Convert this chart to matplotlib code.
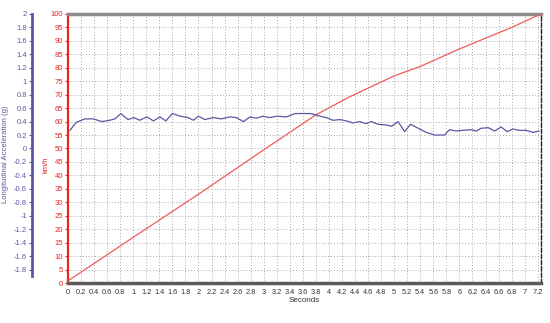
import numpy as np
import matplotlib
matplotlib.use("Agg")
import matplotlib.pyplot as plt

plt.rcParams["font.family"] = ["Liberation Sans", "DejaVu Sans"]

# speed trace (km/h) against time (s)
speed_t = [0, 0.6, 1, 2, 3, 3.8, 4.3, 5, 5.4, 6, 6.3, 6.8, 7.25]
speed_kmh = [0.8, 10.5, 17, 33, 49.5, 62.5, 69, 77, 80.5, 87, 90, 95, 100]

# longitudinal acceleration (g) against time (s)
acc_t = [0.03, 0.13, 0.26, 0.39, 0.52, 0.64, 0.72, 0.81, 0.92, 1.01, 1.10, 1.21,
         1.31, 1.41, 1.50, 1.60, 1.72, 1.84, 1.92, 2.0, 2.1, 2.23, 2.35, 2.48,
         2.58, 2.69, 2.79, 2.89, 2.99, 3.09, 3.2, 3.35, 3.48, 3.71, 3.76, 3.86,
         3.96, 4.06, 4.17, 4.27, 4.37, 4.47, 4.57, 4.65, 4.75, 4.88, 4.96, 5.06,
         5.16, 5.25, 5.39, 5.49, 5.62, 5.77, 5.85, 5.95, 6.05, 6.18, 6.26, 6.33,
         6.44, 6.54, 6.64, 6.73, 6.82, 6.92, 7.02, 7.13, 7.22]
acc_g = [0.27, 0.39, 0.44, 0.44, 0.40, 0.42, 0.44, 0.52, 0.43, 0.46, 0.42, 0.47,
         0.41, 0.47, 0.41, 0.52, 0.48, 0.46, 0.42, 0.48, 0.43, 0.46, 0.44, 0.47,
         0.46, 0.40, 0.47, 0.45, 0.48, 0.46, 0.48, 0.47, 0.52, 0.52, 0.51, 0.48,
         0.46, 0.42, 0.43, 0.41, 0.38, 0.40, 0.37, 0.40, 0.36, 0.35, 0.33, 0.40,
         0.25, 0.36, 0.29, 0.24, 0.20, 0.20, 0.28, 0.26, 0.27, 0.28, 0.26, 0.30,
         0.31, 0.26, 0.32, 0.25, 0.29, 0.27, 0.27, 0.24, 0.26]

x_ticks = np.round(np.arange(0, 7.21, 0.2), 1)
kmh_ticks = list(range(0, 101, 5))
g_ticks = [2, 1.8, 1.6, 1.4, 1.2, 1, 0.8, 0.6, 0.4, 0.2, 0, -0.2, -0.4, -0.6,
           -0.8, -1, -1.2, -1.4, -1.6, -1.8]

red = "#e8261f"
red_line = "#ee5a5a"
blue = "#5858a6"


def fmt(v):
    return f"{v:g}"


fig = plt.figure(figsize=(5.5, 3.23), dpi=100)
ax = fig.add_axes([0.1236, 0.1238, 0.8600, 0.8329])

ax.plot(speed_t, speed_kmh, color=red_line, lw=0.9, zorder=3)
ax.set_xlim(0, 7.25)
ax.set_ylim(0, 100)
ax.set_xticks(x_ticks)
ax.set_xticklabels([fmt(v) for v in x_ticks], fontsize=5.3, color="#333333")
ax.set_yticks(kmh_ticks)
ax.set_yticklabels([str(v) for v in kmh_ticks], fontsize=5.5, color=red)
ax.tick_params(axis="y", colors=red, length=2, width=0.8, pad=1.5, labelcolor=red)
ax.tick_params(axis="x", length=0, pad=4)
ax.grid(True, color="#a8a8a8", linestyle=(0, (1, 2)), lw=0.7)
ax.set_axisbelow(True)
ax.set_ylabel("km/h", color=red, fontsize=5.5, labelpad=2)
ax.yaxis.set_label_coords(-0.04, 0.44)
ax.set_xlabel("Seconds", fontsize=5.8, color="#333333", labelpad=1)

ax.spines["left"].set_color(red)
ax.spines["left"].set_linewidth(1.6)
ax.spines["top"].set_color("#8c8c8c")
ax.spines["top"].set_linewidth(2.5)
ax.spines["bottom"].set_color("#5a5a5a")
ax.spines["bottom"].set_linewidth(2.5)
ax.spines["right"].set_color("#222222")
ax.spines["right"].set_linestyle((0, (3, 1.5)))
ax.spines["right"].set_linewidth(1.0)

ax2 = ax.twinx()
ax2.plot(acc_t, acc_g, color=blue, lw=0.9, zorder=4)
ax2.set_ylim(-2, 2)
ax2.yaxis.tick_left()
ax2.yaxis.set_label_position("left")
# 36 px to the left of the km/h spine (offset is in points)
ax2.spines["left"].set_position(("outward", 36 * 72 / 100))
ax2.spines["left"].set_color(blue)
ax2.spines["left"].set_linewidth(2.0)
ax2.spines["left"].set_bounds(-1.9, 2)
for s in ["top", "bottom", "right"]:
    ax2.spines[s].set_visible(False)
ax2.set_yticks(g_ticks)
ax2.set_yticklabels([fmt(v) for v in g_ticks], fontsize=5.5, color=blue)
ax2.tick_params(axis="y", colors=blue, length=2, width=0.8, pad=1.5, labelcolor=blue)
ax2.set_ylabel("Longitudinal Acceleration (g)", color=blue, fontsize=5.5)
ax2.yaxis.set_label_coords(-0.125, 0.48)

fig.savefig("out.png", dpi=100)
